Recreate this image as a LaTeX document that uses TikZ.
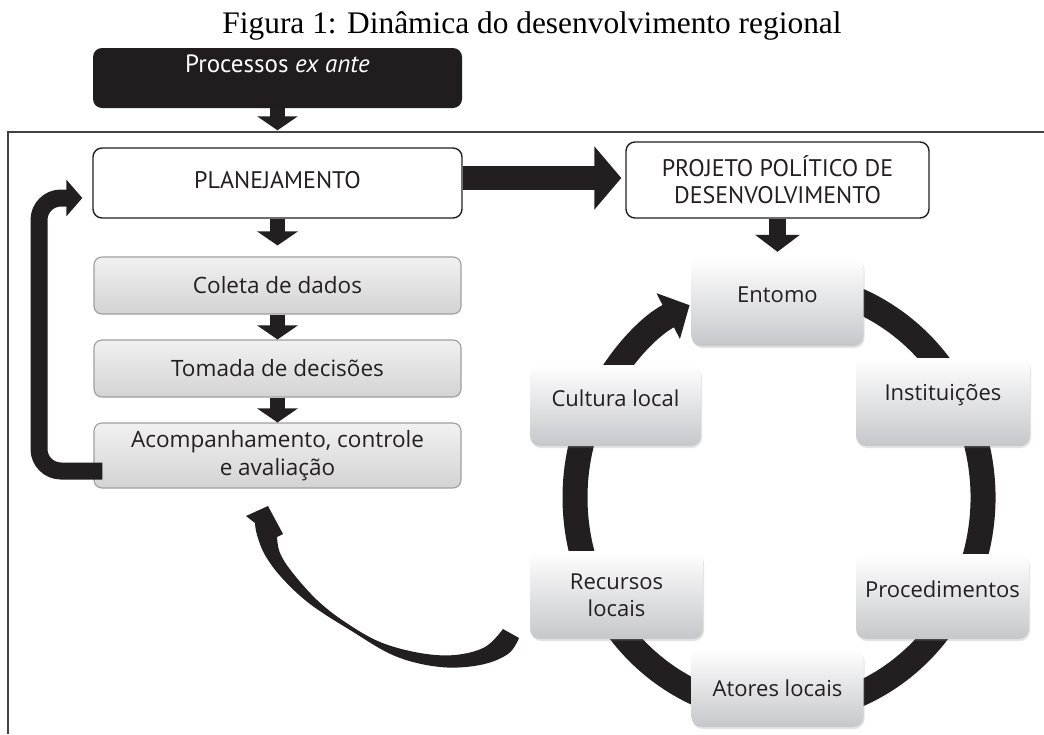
\documentclass[tikz,border=0pt]{standalone}
\usepackage{fontspec}
\usetikzlibrary{arrows.meta,shadows,calc}
\newfontfamily\capfont{Liberation Serif}
\newfontfamily\hdfont{PT Sans}
\newfontfamily\bdfont{Open Sans}
\definecolor{ink}{HTML}{231F20}
\definecolor{boxtop}{HTML}{F1F1F1}
\definecolor{boxbot}{HTML}{D3D3D3}
\definecolor{cbot}{HTML}{C6C7CB}
\newcommand\liftx[1]{\raisebox{7pt}[\height][\depth]{#1}}
\tikzset{
  hdbox/.style={draw=ink, line width=1.4pt, rounded corners=9pt, fill=white,
    font=\hdfont\fontsize{24}{27}\selectfont, text=ink, align=center, inner sep=0pt},
  stepbox/.style={draw=gray!75, line width=1.1pt, rounded corners=8pt,
    top color=boxtop, bottom color=boxbot,
    font=\bdfont\fontsize{22.5}{28}\selectfont, text=ink, align=center,
    inner sep=0pt, minimum width=367pt, minimum height=57pt},
  cbox/.style={rounded corners=10pt, top color=white, bottom color=cbot,
    font=\bdfont\fontsize{22}{27}\selectfont, text=ink, align=center,
    inner sep=0pt, minimum width=172pt, minimum height=86pt,
    drop shadow={opacity=0.22, shadow xshift=1pt, shadow yshift=-2pt}},
  downarr/.style={draw=ink, line width=15pt, -{Triangle[length=14pt,width=40pt]}},
  ringline/.style={draw=ink, line width=25pt},
}
\begin{document}
\begin{tikzpicture}[x=1pt,y=-1pt]
\useasboundingbox (0,0) rectangle (1044,734);
\fill[white] (0,0) rectangle (1044,734);

% caption
\node[font=\capfont\fontsize{31.4}{36}\selectfont, anchor=base, inner sep=0pt] (title) at (532,33)
  {Figura 1: Dinâmica do desenvolvimento regional};

% frame
\draw[line width=2pt, ink!85] (8,734) -- (8,132) -- (1044,132);

% left column
\node[fill=ink!95!black, rounded corners=9pt, minimum width=369pt, minimum height=60pt, inner sep=0pt] (ante) at (277.5,78) {};
\node[font=\hdfont\fontsize{25}{27}\selectfont, text=white, inner sep=0pt] (antetxt) at (277.5,64) {Processos \textit{ex ante}};

\node[hdbox, minimum width=369pt, minimum height=70pt] (plan) at (277.5,183) {\raisebox{3pt}[\height][\depth]{PLANEJAMENTO}};
\node[hdbox, minimum width=303pt, minimum height=76pt] (proj) at (777.5,180) {PROJETO POLÍTICO DE\\DESENVOLVIMENTO};

\node[stepbox] (coleta) at (277.5,285.5) {Coleta de dados};
\node[stepbox] (tomada) at (277.5,368.5) {Tomada de decisões};
\node[stepbox, minimum height=65pt] (acomp) at (277.5,455.5) {Acompanhamento, controle\\e avaliação};

\draw[downarr] (ante.south) -- ([yshift=17pt]plan.north);
\draw[downarr] (plan.south) -- ([yshift=11pt]coleta.north);
\draw[downarr] (coleta.south) -- (tomada.north);
\draw[downarr] (tomada.south) -- (acomp.north);

% big arrow to projeto
\draw[ink, line width=24pt, -{Triangle[length=27pt,width=62pt]}]
  ([yshift=5pt]plan.east) -- ([xshift=-4pt,yshift=2pt]proj.west);

% feedback arrow
\coordinate (fbx) at (39,300);
\draw[ink, line width=17pt, rounded corners=22pt, -{Triangle[length=16pt,width=36pt]}]
  ([xshift=9pt,yshift=-15.5pt]acomp.west) -| (fbx) |- ([xshift=-10pt,yshift=-15pt]plan.west);

% ring
\coordinate (rc) at (779,497.5);
\draw[ringline] ([shift={(250:204 and 214)}]rc) arc[start angle=250, end angle=560, x radius=204, y radius=214];
\draw[ringline, -{Triangle[length=24pt,width=50pt]}] ([shift={(205:204 and 214)}]rc) arc[start angle=205, end angle=244, x radius=204, y radius=214];

% circle boxes
\node[cbox, minimum height=88pt] (entorno) at (777.5,302) {\liftx{Entomo}};
\node[cbox, minimum height=81pt, minimum width=171pt] (cultura) at (615.5,405.5) {\liftx{Cultura local}};
\node[cbox, minimum height=88pt, minimum width=174pt] (inst) at (943,402) {\liftx{Instituições}};
\node[cbox, minimum height=88pt, minimum width=173pt] (recursos) at (616.5,595) {Recursos\\locais};
\node[cbox, minimum height=85pt, minimum width=173pt] (proc) at (942.5,596.5) {\liftx{Procedimentos}};
\node[cbox, minimum height=78pt] (atores) at (777.5,688) {Atores locais};

\draw[ink, line width=17pt, -{Triangle[length=17pt,width=44pt]}] (proj.south) -- ([yshift=6pt]entorno.north);

% swoosh arrow from Recursos locais back to Acompanhamento
\fill[ink] plot[smooth, tension=0.6] coordinates {(519,638) (508,654) (480,665) (440,667) (395,656) (350,630) (310,604) (282,578) (265,555) (257,535) (255,523)}
  -- (246,516) -- (268,506) -- (283,534) -- (277,537)
  -- plot[smooth, tension=0.6] coordinates {(277,537) (280,553) (292,572) (317,600) (345,622) (380,642) (420,653) (455,655) (485,647) (503,629)}
  -- cycle;
\end{tikzpicture}
\end{document}
